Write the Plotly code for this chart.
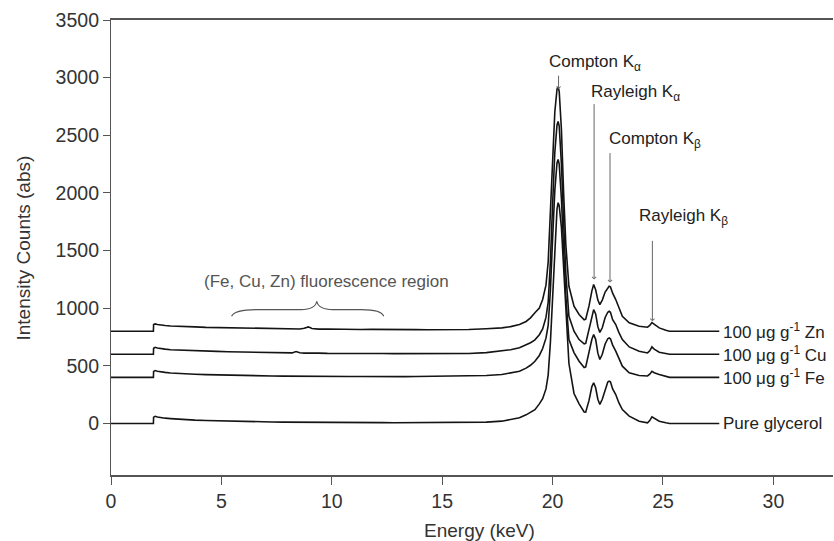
import plotly.graph_objects as go

# ---------------- data ----------------
E_LOW = [0, 1.92, 1.93, 2.0, 2.1, 2.25, 2.45, 2.7, 3.0, 3.4,
         3.8, 4.3, 4.8, 5.3, 5.8, 6.3, 6.8, 7.3, 7.8, 8.2,
         8.38, 8.55, 8.75, 8.94, 9.1, 9.4, 9.8, 10.3, 10.8, 11.3,
         11.8, 12.3, 12.8, 13.3, 13.8, 14.3, 14.8, 15.3, 15.8, 16.2]
E_HIGH = [17.0, 17.7, 18.1, 18.5, 18.8, 19.0, 19.2, 19.4, 19.55, 19.7,
          19.8, 19.9, 20.0, 20.1, 20.2, 20.25, 20.3, 20.4, 20.5, 20.6,
          20.74, 20.97, 21.2, 21.43, 21.5, 21.65, 21.78, 21.86, 21.95, 22.05,
          22.14, 22.25, 22.38, 22.5, 22.56, 22.62, 22.72, 22.86, 23.0, 23.16,
          23.47, 23.92, 24.3, 24.4, 24.5, 24.6, 24.83, 25.13, 25.3, 27.55]

ZN_LOW = [800, 800, 858, 864, 858, 852, 850, 846, 845, 840,
          838, 834, 832, 829, 827, 826, 823, 822, 821, 820,
          819, 820, 826, 838, 824, 818, 819, 816, 817, 815,
          816, 814, 815, 813, 814, 813, 813, 814, 814, 815]
ZN_HIGH = [822, 829, 840, 858, 885, 916, 960, 1002, 1075, 1200,
           1400, 1800, 2300, 2700, 2900, 2920, 2880, 2550, 2000, 1550,
           1190, 1017, 945, 900, 905, 1020, 1150, 1205, 1160, 1070,
           1031, 1070, 1140, 1180, 1190, 1185, 1130, 1075, 1000, 930,
           873, 843, 835, 850, 875, 860, 829, 808, 800, 800]

CU_LOW = [600, 600, 652, 661, 654, 648, 645, 640, 637, 633,
          631, 627, 625, 622, 620, 619, 616, 615, 613, 612,
          624, 613, 610, 611, 609, 610, 608, 609, 607, 608,
          606, 607, 606, 607, 605, 606, 606, 605, 606, 607]
CU_HIGH = [615, 627, 640, 656, 680, 700, 725, 770, 820, 920,
           1050, 1400, 1900, 2350, 2590, 2620, 2580, 2250, 1750, 1300,
           930, 800, 728, 690, 695, 820, 940, 988, 950, 840,
           790, 830, 920, 965, 973, 965, 900, 858, 790, 728,
           664, 627, 612, 630, 664, 645, 618, 607, 600, 600]

FE_LOW = [400, 400, 452, 459, 453, 447, 443, 438, 434, 430,
          427, 424, 421, 419, 417, 415, 413, 412, 411, 410,
          409, 410, 408, 409, 408, 409, 407, 408, 407, 408,
          406, 407, 407, 406, 407, 408, 407, 408, 409, 410]
FE_HIGH = [416, 425, 438, 453, 480, 505, 540, 590, 650, 740,
           850, 1150, 1600, 2020, 2260, 2290, 2250, 1950, 1500, 1100,
           728, 615, 540, 485, 490, 620, 730, 771, 730, 610,
           555, 600, 690, 735, 742, 735, 680, 627, 560, 497,
           439, 416, 412, 428, 453, 440, 425, 410, 400, 400]

GLY_LOW = [0, 0, 55, 62, 56, 50, 46, 42, 37, 33,
           29, 26, 23, 20, 18, 16, 14, 13, 12, 11,
           10, 11, 9, 10, 9, 8, 9, 7, 8, 7,
           6, 7, 6, 7, 6, 7, 7, 7, 8, 8]
GLY_HIGH = [12, 20, 32, 49, 75, 95, 120, 170, 215, 300,
            420, 700, 1100, 1550, 1860, 1915, 1890, 1700, 1350, 950,
            520, 260, 170, 100, 98, 200, 320, 353, 310, 210,
            165, 210, 300, 360, 367, 362, 300, 251, 180, 121,
            64, 20, 6, 25, 58, 45, 20, 6, 0, 0]

SERIES_NAMES = ["100 μg g<sup>-1</sup> Zn", "100 μg g<sup>-1</sup> Cu",
                "100 μg g<sup>-1</sup> Fe", "Pure glycerol"]
SERIES_LEVEL = [800, 600, 400, 0]   # baseline level where each label sits

PEAK_NAMES = ["Compton K<sub>α</sub>", "Rayleigh K<sub>α</sub>",
              "Compton K<sub>β</sub>", "Rayleigh K<sub>β</sub>"]
PEAK_E = [20.27, 21.88, 22.6, 24.52]        # arrow tip energy
PEAK_TIP = [2900, 1248, 1222, 886]          # arrow tip counts
PEAK_LABEL_E = [19.75, 21.65, 22.47, 23.83]  # label left edge (keV)
PEAK_LABEL_Y = [3128, 2868, 2461, 1794]      # label centre (counts)
PEAK_ARROW_LEN = [15, 177, 131, 82]          # px

X_TICKS = [0, 5, 10, 15, 20, 25, 30]
Y_TICKS = [0, 500, 1000, 1500, 2000, 2500, 3000, 3500]

# ---------------- figure ----------------
E = E_LOW + E_HIGH
series = [ZN_LOW + ZN_HIGH, CU_LOW + CU_HIGH, FE_LOW + FE_HIGH, GLY_LOW + GLY_HIGH]

FONT = "Liberation Sans, Arial, sans-serif"
W, H = 834, 541
ML, MR, MT, MB = 111, 1, 20, 66
PW, PH = W - ML - MR, H - MT - MB

fig = go.Figure()
for name, ys in zip(SERIES_NAMES, series):
    fig.add_trace(go.Scatter(x=E, y=ys, mode="lines", name=name,
                             line=dict(color="#141414", width=1.6),
                             hoverinfo="skip", showlegend=False))

ann = []
for name, lvl in zip(SERIES_NAMES, SERIES_LEVEL):
    ann.append(dict(x=27.62, y=lvl, xref="x", yref="y", text=name,
                    showarrow=False, xanchor="left", yanchor="middle",
                    font=dict(size=17, color="#222", family=FONT)))

for name, e, tip, le, ly, al in zip(PEAK_NAMES, PEAK_E, PEAK_TIP,
                                    PEAK_LABEL_E, PEAK_LABEL_Y, PEAK_ARROW_LEN):
    ann.append(dict(x=le, y=ly, xref="x", yref="y", text=name,
                    showarrow=False, xanchor="left", yanchor="middle",
                    font=dict(size=17, color="#222", family=FONT)))
    ann.append(dict(x=e, y=tip, xref="x", yref="y", text="",
                    showarrow=True, ax=0, ay=-al, axref="pixel", ayref="pixel",
                    arrowhead=4, arrowsize=0.8, arrowwidth=1,
                    arrowcolor="#666", standoff=0))

ann.append(dict(x=9.76, y=1233, xref="x", yref="y",
                text="(Fe, Cu, Zn) fluorescence region", showarrow=False,
                xanchor="center", yanchor="middle",
                font=dict(size=17, color="#555", family=FONT)))

# axis titles
ann.append(dict(x=(22.5 - ML) / PW, y=(H - MB - 248) / PH, xref="paper", yref="paper",
                text="Intensity Counts (abs)", textangle=-90, showarrow=False,
                xanchor="center", yanchor="middle",
                font=dict(size=19, color="#333", family=FONT)))
ann.append(dict(x=(479 - ML) / PW, y=(H - MB - 530) / PH, xref="paper", yref="paper",
                text="Energy (keV)", showarrow=False,
                xanchor="center", yanchor="middle",
                font=dict(size=19, color="#333", family=FONT)))

brace = ("M 5.46,930 Q 5.6,988 6.6,988 L 8.6,988 Q 9.26,988 9.32,1060 "
         "Q 9.38,988 10.05,988 L 11.35,988 Q 12.25,988 12.35,930")

fig.update_layout(
    width=W, height=H,
    margin=dict(l=ML, r=MR, t=MT, b=MB, pad=0),
    paper_bgcolor="white", plot_bgcolor="white",
    font=dict(family=FONT, color="#333"),
    annotations=ann,
    shapes=[dict(type="path", path=brace, xref="x", yref="y",
                 line=dict(color="#555", width=1.2))],
    hovermode=False,
    xaxis=dict(range=[0, 32.7], tickvals=X_TICKS, ticks="outside", ticklen=8,
               tickcolor="#555", tickwidth=1.2, showline=True, linecolor="#555",
               linewidth=1.5, mirror=True, showgrid=False, zeroline=False,
               tickfont=dict(size=19.5, color="#333", family=FONT)),
    yaxis=dict(range=[-447, 3500], tickvals=Y_TICKS, ticks="outside", ticklen=7,
               tickcolor="#555", tickwidth=1.2, showline=True, linecolor="#555",
               linewidth=1.2, mirror=False, showgrid=False, zeroline=False,
               tickfont=dict(size=19.5, color="#333", family=FONT)),
)

fig.write_html(
    "out.html",
    config={"displayModeBar": False},
    post_script="document.body.style.margin='0';document.body.style.overflow='hidden';",
)
